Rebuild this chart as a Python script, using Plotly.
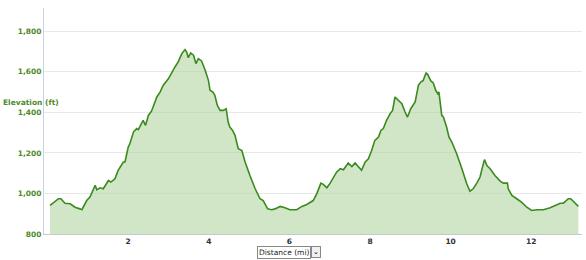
import plotly.graph_objects as go

distance_mi = [0.06, 0.27, 0.33, 0.43, 0.56, 0.68, 0.80, 0.85, 0.97, 1.05, 1.18, 1.22, 1.30, 1.38,
               1.51, 1.57, 1.67, 1.75, 1.88, 1.92, 2.00, 2.04, 2.13, 2.21, 2.25, 2.29, 2.37, 2.43,
               2.50, 2.58, 2.67, 2.71, 2.79, 2.87, 3.00, 3.08, 3.16, 3.24, 3.33, 3.41, 3.45, 3.49,
               3.55, 3.62, 3.68, 3.74, 3.82, 3.91, 3.99, 4.03, 4.10, 4.15, 4.21, 4.28, 4.36, 4.43,
               4.48, 4.52, 4.59, 4.65, 4.73, 4.82, 4.90, 5.02, 5.15, 5.27, 5.35, 5.46, 5.56, 5.64,
               5.77, 5.89, 6.01, 6.18, 6.31, 6.43, 6.51, 6.59, 6.68, 6.78, 6.84, 6.93, 7.01, 7.09,
               7.17, 7.26, 7.34, 7.46, 7.55, 7.63, 7.71, 7.79, 7.88, 7.96, 8.04, 8.12, 8.21, 8.27,
               8.33, 8.41, 8.50, 8.56, 8.62, 8.70, 8.79, 8.87, 8.93, 9.01, 9.12, 9.20, 9.26, 9.32,
               9.39, 9.43, 9.51, 9.57, 9.63, 9.68, 9.71, 9.78, 9.82, 9.90, 9.96, 10.03, 10.15, 10.28,
               10.40, 10.48, 10.56, 10.65, 10.73, 10.79, 10.84, 10.90, 10.98, 11.10, 11.23, 11.31,
               11.41, 11.43, 11.52, 11.64, 11.76, 11.89, 12.01, 12.14, 12.30, 12.47, 12.60, 12.72,
               12.80, 12.92, 12.98, 13.06, 13.17]
elevation_ft = [941, 974, 974, 952, 949, 932, 924, 920, 965, 982, 1040, 1018, 1028, 1023,
                1064, 1056, 1072, 1114, 1155, 1155, 1229, 1245, 1303, 1320, 1315, 1330, 1361, 1336,
                1385, 1407, 1451, 1476, 1500, 1534, 1567, 1599, 1624, 1649, 1690, 1710, 1698, 1670,
                1693, 1682, 1641, 1665, 1654, 1608, 1558, 1509, 1500, 1484, 1435, 1410, 1410, 1418,
                1352, 1328, 1311, 1287, 1221, 1212, 1155, 1089, 1023, 974, 965, 924, 920, 924,
                936, 929, 920, 920, 936, 946, 957, 965, 999, 1051, 1045, 1028, 1051, 1081,
                1105, 1122, 1117, 1150, 1133, 1150, 1130, 1114, 1155, 1171, 1212, 1262, 1278, 1311,
                1320, 1361, 1394, 1410, 1476, 1460, 1443, 1402, 1377, 1418, 1451, 1534, 1550, 1558,
                1594, 1588, 1555, 1545, 1509, 1493, 1500, 1385, 1377, 1328, 1278, 1254, 1196, 1122,
                1048, 1011, 1023, 1051, 1081, 1130, 1167, 1138, 1122, 1089, 1061, 1051,
                1051, 1023, 990, 974, 957, 932, 916, 920, 920, 929, 941, 952,
                952, 974, 974, 957, 936]

x_ticks = [2, 4, 6, 8, 10, 12]
y_ticks = [800, 1000, 1200, 1400, 1600, 1800]
y_labels = ["800", "1,000", "1,200", "1,400", "1,600", "1,800"]

fig = go.Figure()
fig.add_trace(go.Scatter(
    x=distance_mi, y=elevation_ft, mode="lines",
    line=dict(color="#3b8a1e", width=1.6),
    fill="tozeroy", fillcolor="rgba(176,214,160,0.6)",
    hoverinfo="skip",
))

fig.update_layout(
    width=586, height=260,
    margin=dict(l=44, r=4, t=8, b=26),
    paper_bgcolor="white", plot_bgcolor="white",
    showlegend=False,
    font=dict(family="DejaVu Sans", size=8),
    xaxis=dict(
        range=[-0.09, 13.26], tickvals=x_ticks, ticktext=[str(v) for v in x_ticks],
        showgrid=False, zeroline=False,
        showline=True, linecolor="#c8c8c8", linewidth=1,
        ticks="", ticklabelstandoff=0,
        tickfont=dict(family="DejaVu Sans", size=7.5, color="#333333", weight="bold"),
    ),
    yaxis=dict(
        range=[800, 1915], tickvals=y_ticks, ticktext=y_labels,
        showgrid=True, gridcolor="#e8e8e8", gridwidth=1,
        zeroline=False,
        showline=True, linecolor="#c8d4e2", linewidth=1,
        ticks="",
        tickfont=dict(family="DejaVu Sans", size=7.5, color="#4d8a2a", weight="bold"),
    ),
    annotations=[
        dict(text="<b>Elevation (ft)</b>", xref="paper", yref="y",
             x=-43 / 538, y=1450, xanchor="left", yanchor="middle", showarrow=False,
             font=dict(family="DejaVu Sans", size=7.5, color="#4d8a2a")),
        dict(text="Distance (mi)", xref="paper", yref="paper",
             x=(257 - 44) / 538, y=-0.08, xanchor="left", yanchor="middle", showarrow=False,
             font=dict(family="DejaVu Sans", size=7.5, color="#222222"),
             bordercolor="#888888", borderwidth=1, borderpad=1, bgcolor="white"),
        dict(text="<b>⌄</b>", xref="paper", yref="paper",
             x=(311 - 44) / 538, y=-0.08, xanchor="left", yanchor="middle", showarrow=False,
             font=dict(family="DejaVu Sans", size=7, color="#222222"),
             bordercolor="#888888", borderwidth=1, borderpad=1, bgcolor="#f0f0f0"),
    ],
)

fig.write_html("out.html")
